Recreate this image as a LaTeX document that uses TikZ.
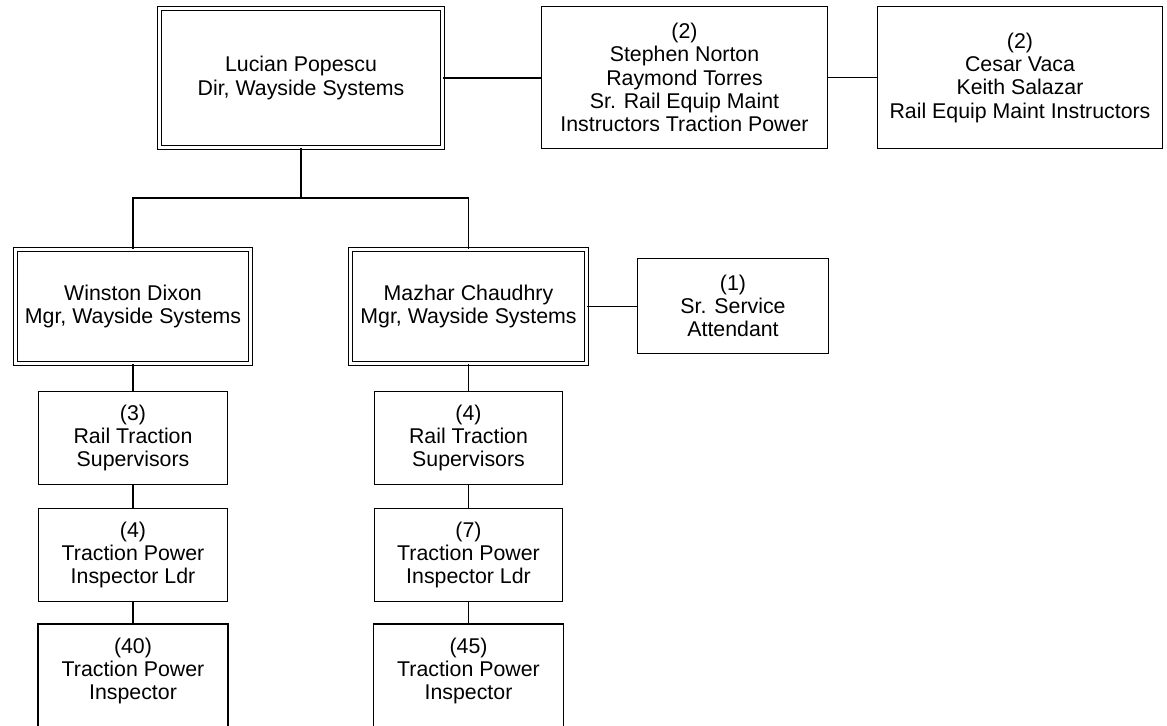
\documentclass[tikz,border=0pt]{standalone}
\usepackage{fontspec}
\setmainfont{Liberation Sans}
\begin{document}
\begin{tikzpicture}[x=0.75pt,y=-0.75pt,
  box/.style={draw, line width=1.1pt, align=center, inner sep=0pt,
    font=\fontsize{16}{17.5}\selectfont},
  dbox/.style={box, double, double distance=2.2pt, line width=0.9pt},
  conn/.style={line width=1.2pt}]
\useasboundingbox (0,0) rectangle (1167,725);

% top row
\node[dbox, minimum width={282.7*0.75pt}, minimum height={138.7*0.75pt}] (lucian) at (301,78)
  {Lucian Popescu\\Dir, Wayside Systems};
\node[box, minimum width={285.5*0.75pt}, minimum height={141.5*0.75pt}] (norton) at (684.5,77.5)
  {(2)\\Stephen Norton\\Raymond Torres\\Sr. Rail Equip Maint\\Instructors Traction Power};
\node[box, minimum width={284.5*0.75pt}, minimum height={141.5*0.75pt}] (vaca) at (1020,77.5)
  {(2)\\Cesar Vaca\\Keith Salazar\\Rail Equip Maint Instructors};

% managers
\node[dbox, minimum width={234.7*0.75pt}, minimum height={113.7*0.75pt}] (dixon) at (133,306.5)
  {Winston Dixon\\Mgr, Wayside Systems};
\node[dbox, minimum width={235.7*0.75pt}, minimum height={113.7*0.75pt}] (chaudhry) at (468.5,306.5)
  {Mazhar Chaudhry\\Mgr, Wayside Systems};
\node[box, minimum width={190.5*0.75pt}, minimum height={94.5*0.75pt}] (attendant) at (733,306)
  {(1)\\Sr. Service\\Attendant};

% left column
\node[box, minimum width={188.5*0.75pt}, minimum height={92.5*0.75pt}] (sup3) at (133,438)
  {(3)\\Rail Traction\\Supervisors};
\node[box, minimum width={188.5*0.75pt}, minimum height={92.5*0.75pt}] (ldr4) at (133,555)
  {(4)\\Traction Power\\Inspector Ldr};
\node[box, draw=none, minimum width={188.5*0.75pt}, minimum height={92.5*0.75pt}] (insp40) at (133,671)
  {(40)\\Traction Power\\Inspector};

% right column
\node[box, minimum width={188.5*0.75pt}, minimum height={92.5*0.75pt}] (sup4) at (468.5,438)
  {(4)\\Rail Traction\\Supervisors};
\node[box, minimum width={188.5*0.75pt}, minimum height={92.5*0.75pt}] (ldr7) at (468.5,555)
  {(7)\\Traction Power\\Inspector Ldr};
\node[box, draw=none, minimum width={188.5*0.75pt}, minimum height={92.5*0.75pt}] (insp45) at (468.5,671)
  {(45)\\Traction Power\\Inspector};

% open-bottom boxes (cut by the page edge)
\draw[line width=1.1pt] ([yshift=-30pt]insp40.south west) -- (insp40.north west)
  -- (insp40.north east) -- ([yshift=-30pt]insp40.south east);
\draw[line width=1.1pt] ([yshift=-30pt]insp45.south west) -- (insp45.north west)
  -- (insp45.north east) -- ([yshift=-30pt]insp45.south east);

% connectors
\coordinate (junction) at (301,198);
\draw[conn] (lucian.east) -- (lucian.east -| norton.west);
\draw[conn] (norton.east) -- (norton.east -| vaca.west);
\draw[conn] (lucian.south) -- (junction);
\draw[conn] (dixon.north) -- (dixon.north |- junction) -- (chaudhry.north |- junction) -- (chaudhry.north);
\draw[conn] (chaudhry.east) -- (chaudhry.east -| attendant.west);
\draw[conn] (dixon.south) -- (sup3.north);
\draw[conn] (sup3.south) -- (ldr4.north);
\draw[conn] (ldr4.south) -- (insp40.north);
\draw[conn] (chaudhry.south) -- (sup4.north);
\draw[conn] (sup4.south) -- (ldr7.north);
\draw[conn] (ldr7.south) -- (insp45.north);
\end{tikzpicture}
\end{document}
